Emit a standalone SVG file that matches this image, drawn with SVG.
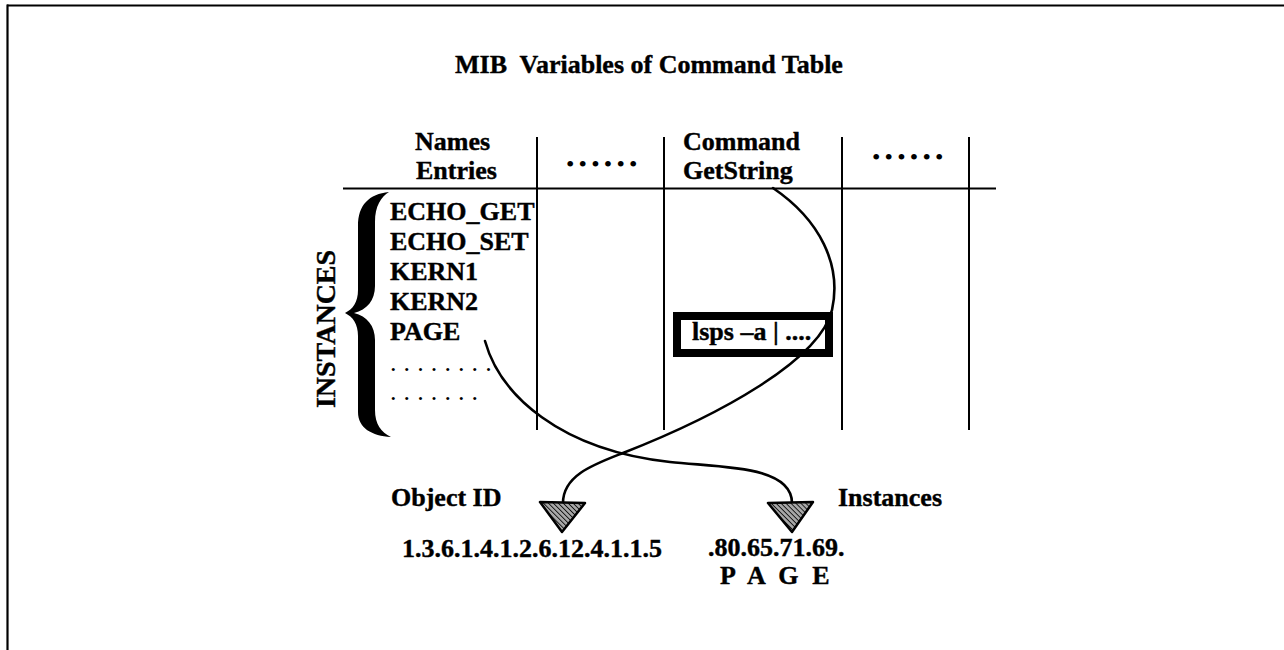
<svg xmlns="http://www.w3.org/2000/svg" width="1284" height="650" viewBox="0 0 1284 650">
  <style>
    .t { font-family: "Liberation Serif", "Times New Roman", serif; font-weight: bold; font-size: 26px; fill: #000; stroke: #000; stroke-width: 0.4; }
    .dots { font-family: "Liberation Serif", "Times New Roman", serif; font-size: 26px; fill: #000; }
    .bul { font-family: "Liberation Serif", "Times New Roman", serif; font-size: 24px; fill: #000; }
    .rule { stroke: #000; stroke-width: 2; fill: none; }
    .curve { stroke: #000; stroke-width: 2.6; fill: none; stroke-linecap: round; }
    .head { fill: url(#hatch); stroke: #000; stroke-width: 2.5; stroke-linejoin: round; }
  </style>
  <defs>
    <pattern id="hatch" patternUnits="userSpaceOnUse" width="3.5" height="3.5" patternTransform="rotate(-45)">
      <rect width="3.5" height="3.5" fill="#a8a8a8"/>
      <line x1="0" y1="0" x2="0" y2="3.5" stroke="#111" stroke-width="1.8"/>
    </pattern>
  </defs>
  <rect width="1284" height="650" fill="#fff"/>

  <g id="frame">
    <line x1="7" y1="5.5" x2="1284" y2="5.5" stroke="#000" stroke-width="2.2"/>
    <line x1="7.5" y1="4.5" x2="7.5" y2="650" stroke="#000" stroke-width="2.2"/>
  </g>

  <g id="title">
    <text class="t" x="455" y="73" xml:space="preserve">MIB  Variables of Command Table</text>
  </g>

  <g id="table">
    <line class="rule" x1="343" y1="188.5" x2="996" y2="188.5"/>
    <line class="rule" x1="537" y1="137" x2="537" y2="430"/>
    <line class="rule" x1="664" y1="137" x2="664" y2="430"/>
    <line class="rule" x1="842" y1="137" x2="842" y2="430"/>
    <line class="rule" x1="969" y1="137" x2="969" y2="430"/>
  </g>

  <g id="col-names">
    <text class="t" x="415" y="150">Names</text>
    <text class="t" x="416" y="179">Entries</text>
  </g>
  <g id="col-dots1">
    <text class="bul" x="566" y="172" letter-spacing="4.2">••••••</text>
  </g>
  <g id="col-command">
    <text class="t" x="683" y="150">Command</text>
    <text class="t" x="683" y="179">GetString</text>
  </g>
  <g id="col-dots2">
    <text class="bul" x="872" y="165" letter-spacing="4.2">••••••</text>
  </g>

  <g id="instances-list">
    <text class="t" x="390" y="220">ECHO_GET</text>
    <text class="t" x="390" y="250">ECHO_SET</text>
    <text class="t" x="390" y="280">KERN1</text>
    <text class="t" x="390" y="310">KERN2</text>
    <text class="t" x="390" y="340">PAGE</text>
    <text class="dots" x="390" y="371" letter-spacing="7.1">........</text>
    <text class="dots" x="390" y="400" letter-spacing="7.1">.......</text>
  </g>

  <g id="brace">
    <path d="M 389 192 C 369 194, 358 205, 358 226 L 358 290 C 358 302, 353 309, 345 313 C 353 317, 358 324, 358 336 L 358 412 C 358 428, 372 436, 391 437 C 381 432, 375 424, 375 410 L 375 340 C 375 326, 367 316, 354 313 C 367 310, 375 300, 375 286 L 375 222 C 375 206, 381 197, 389 192 Z" fill="#000"/>
    <text class="t" transform="translate(335 329) rotate(-90)" text-anchor="middle" style="font-size:28px">INSTANCES</text>
  </g>

  <g id="command-box">
    <rect x="677" y="316" width="152" height="37" fill="#fff" stroke="#000" stroke-width="8"/>
    <text class="t" x="692" y="340">lsps –a | ....</text>
  </g>

  <g id="connectors">
    <path class="curve" d="M 773 188 C 820 220, 842 265, 832 310 C 820 360, 720 415, 623 453 C 595 464, 563 475, 563 503"/>
    <path class="curve" d="M 485 341 C 500 395, 560 450, 670 462 C 720 467.5, 792 465, 792 503"/>
  </g>

  <g id="arrow-objectid">
    <polygon class="head" points="540,502 585,503 562,532"/>
  </g>
  <g id="arrow-instances">
    <polygon class="head" points="768,503 813,502 792,532"/>
  </g>

  <g id="label-objectid">
    <text class="t" x="391" y="506">Object ID</text>
    <text class="t" x="402" y="557">1.3.6.1.4.1.2.6.12.4.1.1.5</text>
  </g>
  <g id="label-instances">
    <text class="t" x="838" y="506">Instances</text>
    <text class="t" x="708" y="556">.80.65.71.69.</text>
    <text class="t" x="720" y="584" xml:space="preserve" letter-spacing="3.7">P A G E</text>
  </g>
</svg>
